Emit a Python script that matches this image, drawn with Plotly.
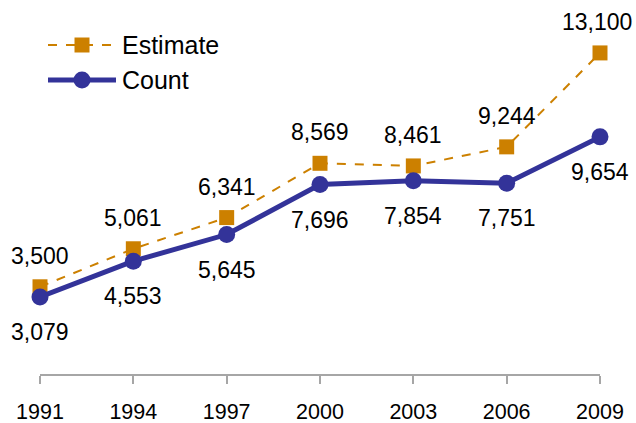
import plotly.graph_objects as go

years = [1991, 1994, 1997, 2000, 2003, 2006, 2009]
estimate = [3500, 5061, 6341, 8569, 8461, 9244, 13100]
count = [3079, 4553, 5645, 7696, 7854, 7751, 9654]

ORANGE = "#CC8000"
NAVY = "#333399"
FONT = "Liberation Sans, Arial, sans-serif"

W, H = 636, 423
# plot area edges in pixels
X0, X1, Y0, Y1 = 40, 600, 31, 374
pw, ph = X1 - X0, Y1 - Y0


def px_x(x):
    return (x - X0) / pw


def px_y(y):
    return (Y1 - y) / ph


fig = go.Figure()

fig.add_trace(go.Scatter(
    x=years, y=estimate, name="Estimate", mode="lines+markers",
    line=dict(color=ORANGE, width=2, dash="dash"),
    marker=dict(symbol="square", size=15, color=ORANGE),
    cliponaxis=False,
))
fig.add_trace(go.Scatter(
    x=years, y=count, name="Count", mode="lines+markers",
    line=dict(color=NAVY, width=5),
    marker=dict(symbol="circle", size=17, color=NAVY),
    cliponaxis=False,
))

# value labels
for x, v in zip(years, estimate):
    fig.add_annotation(x=x, y=v, text=f"{v:,}", showarrow=False, yshift=31,
                       xshift=-3 if x == years[-1] else 0,
                       font=dict(size=23, color="black", family=FONT))
for x, v in zip(years, count):
    fig.add_annotation(x=x, y=v, text=f"{v:,}", showarrow=False, yshift=-35,
                       font=dict(size=23, color="black", family=FONT))

# legend drawn by hand (long sample lines like the original)
legend_rows = [("Estimate", 45, ORANGE, "dash", 2, "rect", 15),
               ("Count", 80, NAVY, "solid", 5, "circle", 17)]
for label, yy, col, dash, lw, shp, size in legend_rows:
    fig.add_shape(type="line", xref="paper", yref="paper",
                  x0=px_x(48), x1=px_x(116), y0=px_y(yy), y1=px_y(yy),
                  line=dict(color=col, width=lw, dash=dash))
    cx = 82
    fig.add_shape(type=shp, xref="paper", yref="paper",
                  x0=px_x(cx - size / 2), x1=px_x(cx + size / 2),
                  y0=px_y(yy - size / 2), y1=px_y(yy + size / 2),
                  fillcolor=col, line=dict(width=0))
    fig.add_annotation(xref="paper", yref="paper", x=px_x(120), y=px_y(yy),
                       text=label, showarrow=False, xanchor="left",
                       yanchor="middle",
                       font=dict(size=25, color="black", family=FONT))

fig.update_layout(
    width=W, height=H,
    margin=dict(l=X0, r=W - X1, t=Y0, b=H - Y1),
    paper_bgcolor="white", plot_bgcolor="white",
    showlegend=False,
    font=dict(family=FONT, size=21, color="black"),
    xaxis=dict(
        range=[1991, 2009], tickvals=years, ticktext=[str(y) for y in years],
        showgrid=False, zeroline=False, showline=True, linecolor="#A6A6A6",
        linewidth=1.5, ticks="outside", ticklen=8, tickcolor="#A6A6A6",
        tickwidth=1.5, tickfont=dict(size=21.5, color="black"),
        ticklabelstandoff=9, automargin=False,
    ),
    yaxis=dict(range=[-80, 14000], visible=False),
)

# drop the default 8px page margin so the figure fills the window exactly
fig.write_html("out.html", config={"displayModeBar": False},
               post_script="document.body.style.margin='0';")
